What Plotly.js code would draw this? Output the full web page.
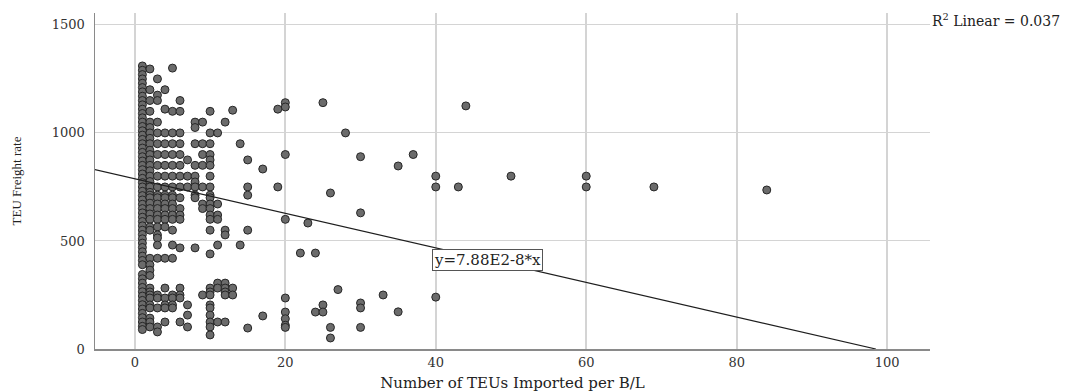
<!DOCTYPE html>
<html>
<head>
<meta charset="utf-8">
<script src="https://cdn.plot.ly/plotly-3.0.1.min.js"></script>
<style>html,body{margin:0;padding:0;background:#fff;}#chart{width:1077px;height:392px;}</style>
</head>
<body>
<div id="chart"></div>
<script>
// x values (Number of TEUs Imported per B/L) and the TEU freight rates observed at each
const xCols = [1, 2, 3, 4, 5, 6, 7, 8, 9, 10, 11, 12, 13, 14, 15, 17, 19, 20, 22, 23, 24, 25, 26, 27, 28, 30, 33, 35, 37, 40, 43, 44, 50, 60, 69, 84];
const y_1  = [1310, 1290, 1270, 1250, 1230, 1210, 1190, 1170, 1150, 1130, 1110, 1090, 1070, 1050, 1030, 1010, 990, 970, 950, 930, 910, 890, 870, 850, 830, 810, 790, 770, 750, 730, 710, 690, 670, 650, 630, 610, 590, 570, 550, 530, 510, 490, 470, 450, 430, 410, 390, 345, 325, 305, 285, 265, 245, 225, 205, 185, 165, 145, 125, 105, 90];
const y_2  = [1296, 1200, 1150, 1100, 1050, 1025, 1000, 975, 950, 920, 900, 875, 850, 825, 800, 775, 750, 725, 712, 700, 675, 650, 625, 600, 565, 550, 420, 390, 365, 340, 282, 264, 250, 236, 204, 190, 143, 125, 102];
const y_3  = [1250, 1175, 1150, 1050, 1000, 950, 900, 850, 800, 750, 712, 700, 671, 650, 620, 600, 565, 528, 514, 481, 420, 250, 236, 190, 102, 79];
const y_4  = [1200, 1110, 1000, 950, 900, 850, 800, 750, 712, 700, 671, 650, 620, 600, 565, 420, 282, 236, 204, 190, 125];
const y_5  = [1300, 1100, 1000, 950, 900, 850, 800, 750, 712, 700, 671, 650, 620, 600, 550, 481, 420, 250, 236, 204, 190];
const y_6  = [1150, 1100, 1000, 950, 900, 850, 800, 750, 700, 650, 620, 600, 468, 282, 250, 236, 125];
const y_7  = [875, 800, 750, 204, 157, 102];
const y_8  = [1050, 1025, 950, 850, 800, 773, 750, 712, 700, 468];
const y_9  = [1050, 950, 900, 850, 750, 671, 650, 250];
const y_10 = [1100, 1000, 950, 900, 875, 850, 800, 750, 712, 700, 671, 650, 620, 600, 550, 440, 282, 264, 250, 204, 190, 157, 125, 102, 65];
const y_11 = [1000, 671, 620, 600, 481, 305, 282, 125];
const y_12 = [1050, 550, 528, 305, 282, 264, 250, 125];
const y_13 = [1105, 282, 250];
const y_14 = [950, 481];
const y_15 = [875, 750, 712, 550, 97];
const y_17 = [833, 153];
const y_19 = [1110, 750];
const y_20 = [1140, 1120, 900, 600, 236, 171, 140, 110, 100];
const y_22 = [444];
const y_23 = [583];
const y_24 = [444, 171];
const y_25 = [1140, 204, 171];
const y_26 = [722, 100, 51];
const y_27 = [275];
const y_28 = [1000];
const y_30 = [890, 630, 213, 190, 100];
const y_33 = [250];
const y_35 = [847, 172];
const y_37 = [900];
const y_40 = [800, 750, 240];
const y_43 = [750];
const y_44 = [1125];
const y_50 = [800];
const y_60 = [800, 750];
const y_69 = [750];
const y_84 = [736];
const yCols = [y_1, y_2, y_3, y_4, y_5, y_6, y_7, y_8, y_9, y_10, y_11, y_12, y_13, y_14, y_15, y_17, y_19, y_20, y_22, y_23, y_24, y_25, y_26, y_27, y_28, y_30, y_33, y_35, y_37, y_40, y_43, y_44, y_50, y_60, y_69, y_84];

// Linear fit reported on the chart: y = 7.88E2 - 8*x, R^2 = 0.037
const fitIntercept = 788;
const fitSlope = -8;
const fitXEnds = [-6, 98.5];

const xTicks = [0, 20, 40, 60, 80, 100];
const yTicks = [0, 500, 1000, 1500];

const px = [], py = [];
xCols.forEach((xv, i) => { yCols[i].forEach(yv => { px.push(xv); py.push(yv); }); });

const serif = 'DejaVu Serif';
const traces = [
  {
    type: 'scatter', mode: 'markers', x: px, y: py, showlegend: false, hoverinfo: 'x+y',
    marker: {size: 8, color: '#6b6b6b', line: {color: '#262626', width: 1}}
  },
  {
    type: 'scatter', mode: 'lines', x: fitXEnds, y: fitXEnds.map(v => fitIntercept + fitSlope * v),
    showlegend: false, hoverinfo: 'skip', line: {color: '#1e1e1e', width: 1.2}
  }
];

const layout = {
  width: 1077, height: 392,
  margin: {l: 95, r: 147, t: 13, b: 43, pad: 0},
  paper_bgcolor: '#ffffff', plot_bgcolor: '#ffffff',
  showlegend: false,
  font: {family: serif, size: 13, color: '#222'},
  xaxis: {
    range: [-5.3, 105.7], tickvals: xTicks, ticktext: xTicks.map(String),
    showgrid: true, gridcolor: '#d4d4d4', gridwidth: 2, zeroline: false,
    showline: true, linecolor: '#8a8a8a', linewidth: 2, ticks: '',
    tickfont: {family: serif, size: 13, color: '#333'},
    title: {text: 'Number of TEUs Imported per B/L', font: {family: serif, size: 15, color: '#222'}, standoff: 11},
    automargin: false
  },
  yaxis: {
    range: [0, 1555], tickvals: yTicks, ticktext: yTicks.map(String),
    showgrid: true, gridcolor: '#d4d4d4', gridwidth: 1, zeroline: false,
    showline: true, linecolor: '#8a8a8a', linewidth: 1.5, ticks: '',
    tickfont: {family: serif, size: 13, color: '#333'}, ticklabelstandoff: 6,
    title: {text: 'TEU Freight rate', font: {family: 'Liberation Serif', size: 13, color: '#222'}, standoff: 27},
    automargin: false
  },
  annotations: [
    {
      xref: 'x', yref: 'y', x: 46.9, y: 412, text: 'y=7.88E2-8*x', showarrow: false,
      font: {family: serif, size: 15, color: '#222'}, bgcolor: '#ffffff',
      bordercolor: '#555', borderwidth: 1, borderpad: 1
    },
    {
      xref: 'paper', yref: 'paper', x: 1, y: 0.979, xanchor: 'left', yanchor: 'middle', xshift: 0,
      text: 'R<sup>2</sup> Linear = 0.037', showarrow: false,
      font: {family: serif, size: 14, color: '#222'}
    }
  ]
};

Plotly.newPlot('chart', traces, layout, {displayModeBar: false, staticPlot: true});
</script>
</body>
</html>
